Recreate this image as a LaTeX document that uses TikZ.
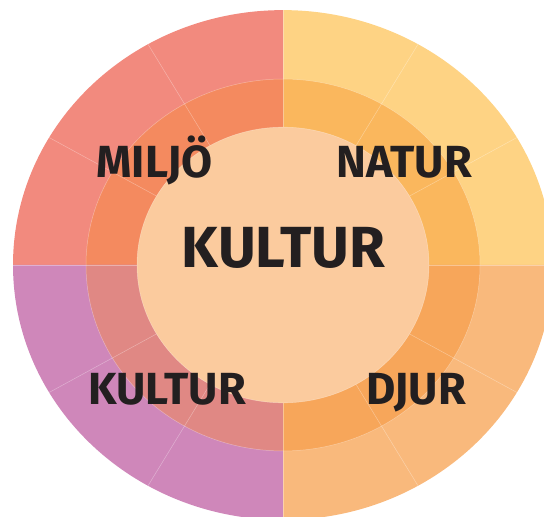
\documentclass[tikz,border=0pt]{standalone}
\usepackage{fontspec}
\setmainfont{Fira Sans}
\usepackage{tikz}
\usepackage{xcolor}

\definecolor{milOut}{HTML}{F28A7E}
\definecolor{milMid}{HTML}{F48A5F}
\definecolor{natOut}{HTML}{FED384}
\definecolor{natMid}{HTML}{FAB75D}
\definecolor{djuOut}{HTML}{F9B97C}
\definecolor{djuMid}{HTML}{F7A65A}
\definecolor{kulOut}{HTML}{CF87BA}
\definecolor{kulMid}{HTML}{E08884}
\definecolor{core}{HTML}{FBCB9E}
\definecolor{ink}{HTML}{231F20}

\begin{document}
\begin{tikzpicture}[x=1pt, y=1pt,
    sep/.style={white, opacity=0.35, line width=0.5pt},
    label/.style={ink, anchor=base, inner sep=0pt, font=\fontsize{45}{45}\selectfont\bfseries}]
  \useasboundingbox (0,0) rectangle (544,517);
  \begin{scope}[shift={(283,252)}, yscale=0.944]
    % Kvadranter
    \foreach \a/\ou/\mi in {0/natOut/natMid, 90/milOut/milMid, 180/kulOut/kulMid, 270/djuOut/djuMid} {
      \fill[\ou] (0,0) -- (\a:270) arc[start angle=\a, delta angle=90, radius=270] -- cycle;
      \fill[\mi] (0,0) -- (\a:197) arc[start angle=\a, delta angle=90, radius=197] -- cycle;
    }
    \fill[core] (0,0) circle (146);
    % Skillelinjer
    \foreach \a in {0,30,...,330}
      \draw[sep] (\a:146) -- (\a:270);
    \draw[sep] (0,0) circle (197);
    \draw[sep] (0,0) circle (146);
  \end{scope}
  \node[label, font=\fontsize{58}{58}\selectfont\bfseries] (kultur) at (283.5,249) {KULTUR};
  \node[label] (miljo) at (154.5,339) {MILJÖ};
  \node[label] (natur) at (404,339) {NATUR};
  \node[label] (kulturlbl) at (167,112) {KULTUR};
  \node[label] (djur) at (416,112) {DJUR};
\end{tikzpicture}
\end{document}
